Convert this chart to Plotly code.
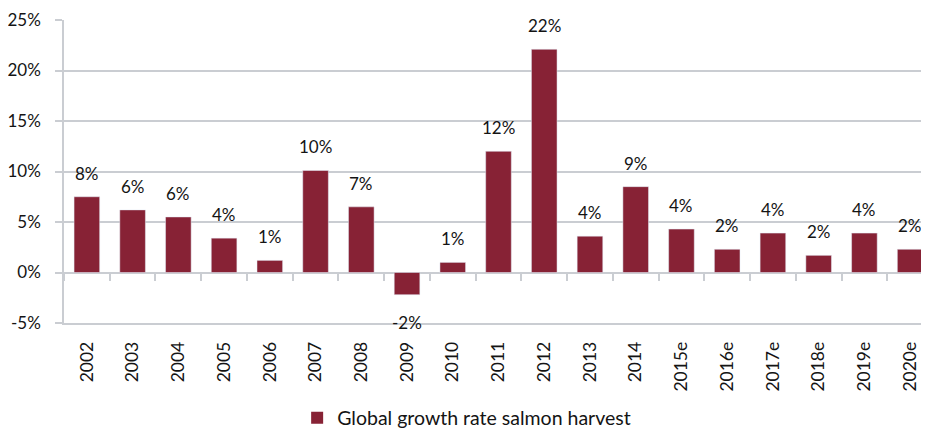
import plotly.graph_objects as go

years = ["2002", "2003", "2004", "2005", "2006", "2007", "2008", "2009", "2010", "2011",
         "2012", "2013", "2014", "2015e", "2016e", "2017e", "2018e", "2019e", "2020e"]
growth = [7.5, 6.2, 5.5, 3.4, 1.2, 10.1, 6.5, -2.2, 1.0, 12.0,
          22.1, 3.6, 8.5, 4.3, 2.3, 3.9, 1.7, 3.9, 2.3]
labels = ["8%", "6%", "6%", "4%", "1%", "10%", "7%", "-2%", "1%", "12%",
          "22%", "4%", "9%", "4%", "2%", "4%", "2%", "4%", "2%"]
y_ticks = [-5, 0, 5, 10, 15, 20, 25]
y_tick_text = ["-5%", "0%", "5%", "10%", "15%", "20%", "25%"]
series_name = "Global growth rate salmon harvest"

BAR = "#872235"
GRID = "#CACDD2"
TXT = "#141414"
FONT = "Lato, 'Open Sans', sans-serif"

# the page body adds an 8px offset, so the figure is laid out relative to that
W, H = 929, 428
ML, MR, MT, MB = 56, 4, 12, 113
ymin, ymax = -5, 25
zero_pos = (0 - ymin) / (ymax - ymin)

fig = go.Figure()
fig.add_trace(go.Bar(
    x=years, y=growth, name=series_name, marker=dict(color=BAR, line=dict(width=0)),
    hoverinfo="skip", showlegend=True,
))
# invisible trace so the zero-line axis (boundary ticks) is rendered
fig.add_trace(go.Bar(
    x=years, y=growth, xaxis="x2", marker=dict(color="rgba(0,0,0,0)"),
    showlegend=False, hoverinfo="skip",
))

for i, (v, lab) in enumerate(zip(growth, labels)):
    fig.add_annotation(
        x=i, y=v, xref="x", yref="y", text=lab, showarrow=False,
        yanchor="bottom" if v >= 0 else "top",
        yshift=11 if v >= 0 else -15,
        font=dict(family=FONT, size=17, color=TXT),
    )

xr = [-0.5, 18.5]
fig.update_layout(
    width=W, height=H,
    margin=dict(l=ML, r=MR, t=MT, b=MB, autoexpand=False),
    paper_bgcolor="white", plot_bgcolor="white",
    bargap=0.44, barmode="overlay",
    font=dict(family=FONT, size=17, color=TXT),
    xaxis=dict(
        type="category", range=xr, showgrid=False, zeroline=False, automargin=False,
        showline=True, linecolor=GRID, linewidth=1.5,
        ticks="", tickangle=-90, ticklabelstandoff=10,
        tickfont=dict(family=FONT, size=17.5, color=TXT),
    ),
    xaxis2=dict(
        type="category", range=xr, overlaying="x", anchor="free", position=zero_pos,
        showgrid=False, zeroline=False, showline=False, automargin=False,
        ticks="outside", tickson="boundaries", ticklen=7, tickwidth=1.5,
        tickcolor=GRID, showticklabels=False,
    ),
    yaxis=dict(
        range=[ymin, ymax], tickvals=y_ticks, ticktext=y_tick_text, automargin=False,
        showgrid=True, gridcolor=GRID, gridwidth=1.5,
        zeroline=False, showline=True, linecolor=GRID, linewidth=1.5,
        ticks="outside", ticklen=7, tickwidth=1.5, tickcolor=GRID,
        ticklabelstandoff=11,
        tickfont=dict(family=FONT, size=17, color=TXT),
    ),
    legend=dict(
        orientation="h", xref="container", yref="container",
        x=0.4937, xanchor="center", y=18 / H, yanchor="middle",
        font=dict(family=FONT, size=19.5, color=TXT), itemwidth=30,
    ),
)

fig.write_html("out.html")
